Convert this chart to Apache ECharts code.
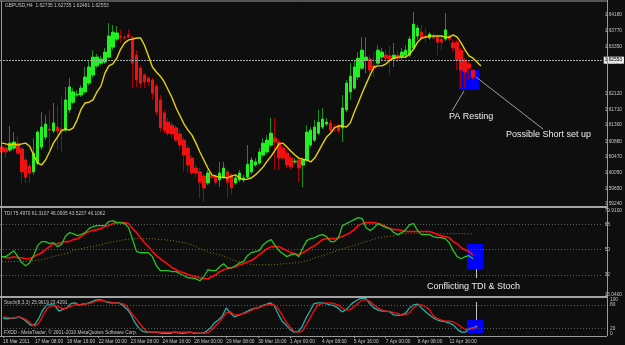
<!DOCTYPE html>
<html><head><meta charset="utf-8">
<script src="https://cdn.jsdelivr.net/npm/echarts@6/dist/echarts.min.js"></script>
<style>html,body{margin:0;padding:0;background:#0e0e0e;}#c{width:625px;height:345px;}</style>
</head><body><div id="c"></div>
<script>
const timeLabels = ['16 Mar 2011','17 Mar 08:00','18 Mar 16:00','22 Mar 00:00','23 Mar 08:00','24 Mar 16:00','28 Mar 00:00','29 Mar 08:00','30 Mar 16:00','1 Apr 00:00','4 Apr 08:00','5 Apr 16:00','7 Apr 00:00','8 Apr 08:00','11 Apr 16:00'];
const priceTicks = [1.5924,1.5965,1.6005,1.6047,1.6088,1.6130,1.6171,1.6212,1.6294,1.6335,1.6377,1.6418];
const bidPrice = 1.62553;
const tdiTicks = [16.04,32,50,68,79.91];
const tdiTickText = ['16.0400','32','50','68','79.9100'];
const tdiLevels = [68,50,32];
const stochTicks = [0,20,80,100];
const stochLevels = [80,20];

const open = [
1.6073,1.6070,1.6065,1.6070,1.6083,1.6068,1.6039,1.6023,1.6008,1.6031,
1.6073,1.6099,1.6120,1.6115,1.6125,1.6120,1.6117,1.6170,1.6190,1.6209,
1.6209,1.6217,1.6240,1.6261,1.6285,1.6292,1.6295,1.6308,1.6334,1.6355,
1.6363,1.6360,1.6366,1.6360,1.6313,1.6279,1.6261,1.6253,1.6248,1.6232,
1.6196,1.6162,1.6138,1.6130,1.6123,1.6107,1.6091,1.6070,1.6044,1.6018,
1.6008,1.5997,1.5979,1.5997,1.5997,1.5987,1.5994,1.6008,1.6000,1.5979,
1.5987,1.5989,1.5994,1.6008,1.6026,1.6031,1.6052,1.6060,1.6078,1.6096,
1.6086,1.6070,1.6057,1.6044,1.6034,1.6039,1.6026,1.6039,1.6078,1.6091,
1.6109,1.6125,1.6133,1.6136,1.6125,1.6128,1.6123,1.6170,1.6217,1.6227,
1.6256,1.6279,1.6300,1.6303,1.6285,1.6292,1.6308,1.6313,1.6311,1.6305,
1.6313,1.6308,1.6313,1.6313,1.6332,1.6363,1.6373,1.6363,1.6358,1.6360,
1.6360,1.6355,1.6355,1.6363,1.6345,1.6347,1.6326,1.6300,1.6290,1.62735];
const close = [
1.6060,1.6060,1.6083,1.6086,1.6057,1.6008,1.5994,1.6005,1.6057,1.6112,
1.6125,1.6133,1.6117,1.6136,1.6115,1.6117,1.6196,1.6230,1.6217,1.6211,
1.6227,1.6256,1.6282,1.6308,1.6308,1.6303,1.6321,1.6363,1.6373,1.6371,
1.6360,1.6358,1.6360,1.6292,1.6248,1.6240,1.6243,1.6243,1.6214,1.6164,
1.6123,1.6117,1.6109,1.6107,1.6091,1.6078,1.6052,1.6026,1.6005,1.6005,
1.5981,1.5966,1.6005,1.5994,1.5981,1.6005,1.6018,1.5981,1.5966,1.5992,
1.6005,1.5992,1.6028,1.6039,1.6034,1.6060,1.6083,1.6091,1.6109,1.6086,
1.6044,1.6044,1.6026,1.6021,1.6036,1.6018,1.6039,1.6112,1.6117,1.6125,
1.6138,1.6146,1.6138,1.6117,1.6123,1.6115,1.6175,1.6240,1.6258,1.6282,
1.6305,1.6326,1.6308,1.6274,1.6279,1.6326,1.6321,1.6305,1.6303,1.6313,
1.6305,1.6321,1.6326,1.6355,1.6394,1.6384,1.6358,1.6360,1.6368,1.6358,
1.6347,1.6347,1.6379,1.6355,1.6332,1.6300,1.6274,1.6269,1.6279,1.62553];
const low = [
1.6047,1.6044,1.6060,1.6065,1.6052,1.5979,1.5979,1.5979,1.6000,1.6026,
1.6065,1.6091,1.6065,1.6109,1.6065,1.6060,1.6112,1.6162,1.6185,1.6204,
1.6204,1.6211,1.6235,1.6253,1.6279,1.6287,1.6290,1.6305,1.6326,1.6350,
1.6345,1.6353,1.6358,1.6227,1.6230,1.6227,1.6227,1.6232,1.6196,1.6156,
1.6112,1.6109,1.6102,1.6096,1.6086,1.6065,1.6008,1.6005,1.6000,1.5994,
1.5940,1.5929,1.5974,1.5987,1.5974,1.5968,1.5989,1.5940,1.5948,1.5974,
1.5981,1.5981,1.5989,1.6002,1.6021,1.6026,1.6047,1.6055,1.6073,1.6013,
1.6013,1.6039,1.6018,1.6015,1.6028,1.5981,1.5968,1.6034,1.6073,1.6086,
1.6104,1.6120,1.6128,1.6112,1.6112,1.6109,1.6086,1.6164,1.6196,1.6222,
1.6248,1.6274,1.6266,1.6261,1.6256,1.6287,1.6300,1.6295,1.6261,1.6282,
1.6295,1.6300,1.6305,1.6308,1.6326,1.6353,1.6353,1.6345,1.6353,1.6353,
1.6313,1.6326,1.6350,1.6347,1.6321,1.6274,1.6227,1.6227,1.6248,1.62481];
const high = [
1.6078,1.6078,1.6128,1.6112,1.6102,1.6073,1.6044,1.6031,1.6096,1.6117,
1.6164,1.6156,1.6170,1.6188,1.6183,1.6204,1.6230,1.6253,1.6227,1.6222,
1.6235,1.6282,1.6300,1.6326,1.6316,1.6311,1.6332,1.6397,1.6392,1.6389,
1.6379,1.6366,1.6381,1.6363,1.6326,1.6287,1.6266,1.6258,1.6253,1.6238,
1.6209,1.6170,1.6149,1.6138,1.6130,1.6117,1.6099,1.6078,1.6052,1.6026,
1.6018,1.6002,1.6013,1.6008,1.6002,1.6034,1.6034,1.6013,1.6005,1.5997,
1.6013,1.6000,1.6078,1.6047,1.6044,1.6070,1.6096,1.6104,1.6149,1.6149,
1.6091,1.6078,1.6065,1.6049,1.6044,1.6044,1.6044,1.6130,1.6125,1.6144,
1.6170,1.6175,1.6149,1.6144,1.6133,1.6133,1.6209,1.6248,1.6292,1.6300,
1.6321,1.6360,1.6360,1.6313,1.6321,1.6339,1.6332,1.6326,1.6337,1.6345,
1.6326,1.6332,1.6339,1.6363,1.6426,1.6392,1.6392,1.6384,1.6373,1.6371,
1.6368,1.6363,1.6423,1.6368,1.6353,1.6353,1.6332,1.6305,1.6300,1.62735];
const maLine = [
1.6083,1.6081,1.6078,1.6081,1.6078,1.6081,1.6083,1.6075,1.6052,1.6031,
1.6026,1.6039,1.6060,1.6083,1.6099,1.6115,1.6120,1.6117,1.6123,1.6144,
1.6172,1.6188,1.6190,1.6196,1.6217,1.6232,1.6266,1.6285,1.6290,1.6305,
1.6329,1.6345,1.6353,1.6355,1.6358,1.6358,1.6339,1.6311,1.6282,1.6269,
1.6258,1.6243,1.6222,1.6201,1.6175,1.6154,1.6133,1.6117,1.6104,1.6083,
1.6060,1.6039,1.6018,1.6000,1.5997,1.5994,1.5994,1.5992,1.5997,1.6000,
1.5992,1.5987,1.5989,1.5992,1.6000,1.6010,1.6021,1.6036,1.6049,1.6065,
1.6081,1.6083,1.6073,1.6062,1.6052,1.6044,1.6041,1.6039,1.6034,1.6044,
1.6062,1.6081,1.6099,1.6109,1.6123,1.6128,1.6128,1.6125,1.6136,1.6164,
1.6188,1.6214,1.6238,1.6261,1.6282,1.6285,1.6285,1.6290,1.6300,1.6305,
1.6308,1.6308,1.6308,1.6316,1.6329,1.6347,1.6358,1.6360,1.6363,1.6363,
1.6363,1.6363,1.6360,1.6360,1.6366,1.6360,1.6345,1.6326,1.6311,1.6305,
1.6295,1.6285];
const tdiPrice = [
45.0,45.0,47.1,49.3,45.0,40.6,38.5,40.6,45.7,52.9,
55.8,55.8,54.3,55.0,52.2,53.6,59.4,62.2,61.5,60.1,
60.8,62.2,65.1,66.6,67.3,67.3,67.3,70.2,70.9,69.4,
69.4,68.7,65.8,57.2,48.6,47.8,47.8,47.8,45.0,38.5,
34.9,34.9,34.9,34.2,34.2,32.7,31.3,29.8,29.8,29.1,
27.7,30.6,35.6,34.9,34.9,37.8,39.9,37.0,37.0,38.5,
40.6,41.4,45.7,47.8,48.6,49.3,53.6,55.8,57.2,52.9,
49.3,47.1,45.0,46.4,47.1,45.0,51.4,56.5,57.9,58.6,
60.1,60.8,59.4,55.8,55.8,58.6,67.3,68.7,70.2,71.6,
73.0,72.3,65.8,63.7,65.8,68.7,67.3,65.8,65.1,62.2,
60.8,62.2,64.4,68.0,68.7,63.7,60.8,60.8,60.8,59.4,
58.6,58.6,57.9,55.0,49.3,45.0,43.5,45.0,45.7,43.52];
const tdiSignal = [
45.0,44.2,44.2,45.0,44.2,44.2,43.5,43.5,45.0,46.4,
47.8,50.0,52.2,54.3,54.3,55.0,55.8,55.8,57.2,57.9,
59.4,61.5,63.0,63.7,64.4,65.1,66.6,67.3,68.7,69.4,
69.4,69.4,68.7,65.1,62.2,58.6,55.0,52.2,48.6,45.7,
43.5,41.4,39.2,37.0,35.6,34.2,33.4,32.0,31.3,30.6,
29.8,29.1,29.1,30.6,32.0,34.2,35.6,36.3,37.0,37.8,
39.2,39.9,41.4,42.1,44.2,46.4,48.6,50.7,52.2,52.2,
52.2,50.7,49.3,47.8,47.1,46.4,47.8,49.3,51.4,52.9,
55.0,57.2,57.9,57.9,57.9,58.6,59.4,60.8,62.2,64.4,
67.3,68.7,69.4,69.4,69.4,68.7,68.0,66.6,65.1,64.4,
64.4,63.7,63.0,63.0,63.0,63.0,63.0,63.0,63.0,62.2,
60.8,59.9,59.4,58.6,55.8,54.3,51.4,50.0,48.6,46.11];
const tdiBase = [
41.4,41.4,41.4,41.4,41.4,41.4,41.7,42.1,42.1,42.4,
42.8,43.5,44.2,45.0,45.7,46.4,47.1,47.8,49.3,50.0,
50.7,51.4,51.8,52.2,52.9,53.6,54.3,55.0,55.8,56.1,
56.5,57.2,57.6,57.9,57.9,57.9,57.9,57.9,57.9,57.6,
57.2,57.2,56.8,56.5,55.8,55.4,55.0,54.3,53.6,52.2,
50.7,49.6,48.6,47.8,47.1,46.4,45.3,44.2,42.8,42.1,
41.4,40.6,39.9,39.6,39.2,39.2,39.2,39.2,39.2,39.2,
39.6,39.9,39.9,40.3,40.6,40.6,41.4,42.1,42.8,44.2,
45.0,45.7,46.8,47.8,48.6,49.6,50.7,51.4,52.2,53.2,
54.0,55.0,55.8,56.5,57.6,58.6,59.0,59.4,59.7,60.1,
60.8,61.2,61.5,61.9,61.9,61.9,61.9,61.9,61.9,61.9,
61.5,61.5,61.5,61.5,61.5,61.5,61.5,61.4,61.4,61.31];
const stochMain = [
46,44,45,46,49,44,36,27,30,46,
67,80,80,79,64,68,72,83,85,80,
82,83,87,91,93,91,87,85,85,85,
79,70,57,36,21,12,10,10,10,9,
7,7,7,10,8,7,8,10,7,7,
7,12,20,33,41,51,72,59,49,53,
57,62,67,71,72,78,81,85,78,57,
38,28,17,10,11,23,46,64,83,85,
85,83,80,78,72,62,67,78,87,93,
97,96,83,72,67,64,64,62,54,53,
54,59,72,80,82,72,62,54,46,41,
38,36,33,28,17,10,10,19,21,25.96];
const stochSignal = [
49,48,46,47,49,46,41,32,25,33,
52,70,77,78,75,70,72,76,80,80,
80,83,84,88,91,91,88,87,85,84,
83,77,62,49,36,23,12,10,10,10,
10,10,10,10,10,10,10,10,8,7,
7,7,12,23,33,46,59,62,54,54,
57,59,64,70,72,76,80,80,80,70,
54,36,23,12,10,12,28,46,64,80,
83,85,85,83,80,72,67,67,75,83,
92,93,89,80,72,67,64,63,60,58,
53,55,59,73,79,80,75,67,51,45,
41,38,38,36,30,23,16,17,20,23.43];

const N = 152;
const cats = Array.from({length: N}, (_, i) => String(i));
const ohlc = open.map((o, i) => [o, close[i], low[i], high[i]]);
const bodies = open.map((o, i) => [o, close[i], Math.min(o, close[i]), Math.max(o, close[i])]);

const axisTxt = {color: '#c4c4c4', fontSize: 4.8, fontFamily: 'Liberation Sans'};
const grids = [
  {left: -1, top: 2, width: 608, height: 204},
  {left: -1, top: 208, width: 608, height: 89},
  {left: -1, top: 297, width: 608, height: 39}
];
function xa(idx, show) {
  return {
    type: 'category', gridIndex: idx, data: cats, boundaryGap: true, show: show,
    axisLine: {show: false},
    axisTick: {show: show, alignWithLabel: true, length: 2, interval: (i) => i % 8 === 0 && i / 8 < timeLabels.length, lineStyle: {color: '#9a9a9a'}},
    axisLabel: {show: show, interval: (i) => i % 8 === 0 && i / 8 < timeLabels.length,
      formatter: (v, i) => timeLabels[i / 8] || '', align: 'left', margin: 3, ...axisTxt},
    splitLine: {show: false}
  };
}
const chart = echarts.init(document.getElementById('c'), null, {renderer: 'canvas'});
const levelLine = (vals) => ({symbol: 'none', silent: true, animation: false,
  lineStyle: {color: '#5c5c5c', type: [1, 2], width: 1}, label: {show: false},
  data: vals.map(v => ({yAxis: v}))});

chart.setOption({
  backgroundColor: '#0e0e0e',
  animation: false,
  grid: grids,
  xAxis: [xa(0, false), xa(1, false), xa(2, true)],
  yAxis: [
    {type: 'value', gridIndex: 0, position: 'right', min: 1.591873, max: 1.645198, scale: true,
      axisLine: {show: false}, axisTick: {show: false}, splitLine: {show: false},
      axisLabel: {customValues: priceTicks, formatter: (v) => v.toFixed(5), margin: 3, ...axisTxt}},
    {type: 'value', gridIndex: 1, position: 'right', min: 16.04, max: 79.91,
      axisLine: {show: false}, axisTick: {show: false}, splitLine: {show: false},
      axisLabel: {customValues: tdiTicks, formatter: (v) => tdiTickText[tdiTicks.indexOf(v)] || String(v), margin: 3,
        verticalAlignMaxLabel: 'top', verticalAlignMinLabel: 'bottom', ...axisTxt}},
    {type: 'value', gridIndex: 2, position: 'right', min: 0, max: 100,
      axisLine: {show: false}, axisTick: {show: false}, splitLine: {show: false},
      axisLabel: {customValues: stochTicks, formatter: (v) => String(v), margin: 3,
        verticalAlignMaxLabel: 'top', verticalAlignMinLabel: 'bottom', ...axisTxt}}
  ],
  series: [
    {type: 'candlestick', xAxisIndex: 0, yAxisIndex: 0, data: ohlc, barWidth: 1, z: 3,
      itemStyle: {color: '#1c8c1c', color0: '#a80000', borderColor: '#1c8c1c', borderColor0: '#a80000', borderWidth: 1}},
    {type: 'candlestick', xAxisIndex: 0, yAxisIndex: 0, data: bodies, barWidth: 3, z: 4,
      itemStyle: {color: '#22f022', color0: '#f01010', borderColor: '#22f022', borderColor0: '#f01010', borderWidth: 1},
      markLine: {symbol: 'none', silent: true, animation: false,
        lineStyle: {color: '#a8a8a8', type: [2, 1], width: 1},
        label: {position: 'end', formatter: bidPrice.toFixed(5), backgroundColor: '#e6e6e6', color: '#000',
          fontSize: 4.8, fontFamily: 'Liberation Sans', padding: [1, 2, 1, 1], distance: 2},
        data: [{yAxis: bidPrice}]}},
    {type: 'line', xAxisIndex: 0, yAxisIndex: 0, data: maLine, symbol: 'none', z: 5,
      lineStyle: {color: '#e8d400', width: 1.4}},
    {type: 'line', xAxisIndex: 1, yAxisIndex: 1, data: tdiBase, symbol: 'none', z: 3,
      lineStyle: {color: '#8a7d00', width: 1, type: [1, 2]}, markLine: levelLine(tdiLevels)},
    {type: 'line', xAxisIndex: 1, yAxisIndex: 1, data: tdiSignal, symbol: 'none', z: 4,
      lineStyle: {color: '#ff0a0a', width: 1.6}},
    {type: 'line', xAxisIndex: 1, yAxisIndex: 1, data: tdiPrice, symbol: 'none', z: 5,
      lineStyle: {color: '#26c426', width: 1.3}},
    {type: 'line', xAxisIndex: 2, yAxisIndex: 2, data: stochMain, symbol: 'none', z: 4,
      lineStyle: {color: '#20b2aa', width: 1.3}, markLine: levelLine(stochLevels)},
    {type: 'line', xAxisIndex: 2, yAxisIndex: 2, data: stochSignal, symbol: 'none', z: 5,
      lineStyle: {color: '#ff0a0a', width: 1.3}}
  ],
  graphic: [
    {type: 'rect', z: 1, shape: {x: 459, y: 70, width: 20, height: 20}, style: {fill: '#0000ff'}},
    {type: 'rect', z: 1, shape: {x: 467, y: 244, width: 16, height: 25}, style: {fill: '#0000ff'}},
    {type: 'rect', z: 1, shape: {x: 467, y: 320, width: 16, height: 13}, style: {fill: '#0000ff'}},
    {type: 'line', z: 20, shape: {x1: 0, y1: 1, x2: 607, y2: 1}, style: {stroke: '#9a9a9a', lineWidth: 1}},
    {type: 'line', z: 20, shape: {x1: 1.5, y1: 1, x2: 1.5, y2: 336}, style: {stroke: '#9a9a9a', lineWidth: 1}},
    {type: 'line', z: 20, shape: {x1: 607.5, y1: 0, x2: 607.5, y2: 336}, style: {stroke: '#9a9a9a', lineWidth: 1}},
    {type: 'line', z: 20, shape: {x1: 0, y1: 207, x2: 607, y2: 207}, style: {stroke: '#a4a4a4', lineWidth: 2}},
    {type: 'line', z: 20, shape: {x1: 0, y1: 297, x2: 607, y2: 297}, style: {stroke: '#a4a4a4', lineWidth: 2}},
    {type: 'line', z: 20, shape: {x1: 0, y1: 336.5, x2: 607, y2: 336.5}, style: {stroke: '#9a9a9a', lineWidth: 1}},
    {type: 'text', z: 20, left: 5, top: 3, style: {text: 'GBPUSD,H4  1.62735 1.62735 1.62481 1.62553', fill: '#c4c4c4', fontSize: 4.8, fontFamily: 'Liberation Sans'}},
    {type: 'text', z: 20, left: 4, top: 211, style: {text: 'TDI 75.4970 61.3107 46.0905 43.5237 46.1062', fill: '#c4c4c4', fontSize: 4.8, fontFamily: 'Liberation Sans'}},
    {type: 'text', z: 20, left: 4, top: 300, style: {text: 'Stoch(8,3,3) 25.9619 23.4291', fill: '#c4c4c4', fontSize: 4.8, fontFamily: 'Liberation Sans'}},
    {type: 'text', z: 20, left: 4, top: 330, style: {text: 'FXDD - MetaTrader, \u00a9 2001-2010 MetaQuotes Software Corp.', fill: '#c4c4c4', fontSize: 4.8, fontFamily: 'Liberation Sans'}},
    {type: 'line', z: 20, shape: {x1: 464, y1: 91, x2: 452, y2: 111}, style: {stroke: '#a0a0a0', lineWidth: 1}},
    {type: 'line', z: 20, shape: {x1: 476, y1: 77, x2: 543, y2: 129}, style: {stroke: '#a0a0a0', lineWidth: 1}},
    {type: 'line', z: 20, shape: {x1: 476.5, y1: 269, x2: 476.5, y2: 278}, style: {stroke: '#c0c0c0', lineWidth: 1}},
    {type: 'line', z: 20, shape: {x1: 476.5, y1: 302, x2: 476.5, y2: 320}, style: {stroke: '#c0c0c0', lineWidth: 1}},
    {type: 'text', z: 20, left: 449, top: 112, style: {text: 'PA Resting', fill: '#ececec', fontSize: 9, fontFamily: 'Liberation Sans'}},
    {type: 'text', z: 20, left: 506, top: 130, style: {text: 'Possible Short set up', fill: '#ececec', fontSize: 9, fontFamily: 'Liberation Sans'}},
    {type: 'text', z: 20, left: 427, top: 282, style: {text: 'Conflicting TDI & Stoch', fill: '#ececec', fontSize: 9, fontFamily: 'Liberation Sans'}}
  ]
});
</script>
</body></html>
